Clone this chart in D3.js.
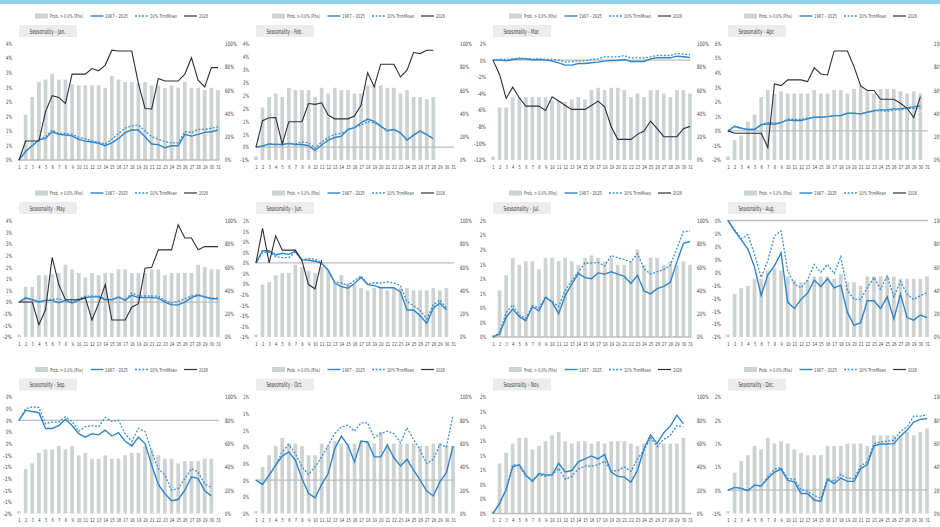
<!DOCTYPE html>
<html><head><meta charset="utf-8">
<script src="https://cdn.jsdelivr.net/npm/d3@7"></script>
<style>
body{margin:0;background:#fff}
svg{display:block}
text{font-family:"Liberation Sans Narrow","DejaVu Sans Condensed","Liberation Sans",sans-serif;font-size:6px;fill:#404040}
</style>
</head><body>
<svg id="c" width="940" height="527"></svg>
<script>
const days=["1","2","3","4","5","6","7","8","9","10","11","12","13","14","15","16","17","18","19","20","21","22","23","24","25","26","27","28","29","30","31"];
const rightTicks=[0,20,40,60,80,100];
const rightLabels=["0%","20%","40%","60%","80%","100%"];

const janProb=[0,39,54,67,69,74,69,69,65,64,64,64,64,62,72,69,67,67,66,67,64,64,62,64,62,67,62,62,60,62,60];
const janAvg=[0,0.29,0.49,0.69,0.74,0.97,0.88,0.86,0.83,0.71,0.65,0.62,0.57,0.49,0.59,0.74,0.94,1.03,1.03,0.80,0.55,0.53,0.42,0.49,0.49,0.88,0.82,0.88,0.95,0.97,1.03];
const janTrim=[0,0.30,0.50,0.70,0.80,1.03,0.91,0.91,0.88,0.78,0.73,0.66,0.61,0.55,0.71,0.91,1.09,1.17,1.20,1.00,0.80,0.71,0.63,0.59,0.59,0.97,0.94,1.05,1.05,1.09,1.14];
const jan2026=[0,0.65,0.65,0.65,1.66,2.21,2.15,1.94,2.95,2.95,2.95,3.14,3.06,3.26,3.77,3.74,3.74,3.74,2.63,1.77,1.75,2.80,2.71,2.71,2.71,2.95,3.51,2.74,2.51,3.17,3.17];
const janTicks=[0,0.5,1,1.5,2,2.5,3,3.5,4];
const janLabels=["0%","1%","1%","2%","2%","3%","3%","4%","4%"];

const febProb=[3,45,54,57,54,62,60,60,60,54,62,57,62,60,60,57,57,64,64,64,62,62,57,60,54,54,52,54];
const febAvg=[0,0.04,0.12,0.10,0.10,0.14,0.10,0.10,0.05,-0.14,0.08,0.27,0.37,0.42,0.68,0.75,0.94,1.08,0.99,0.81,0.63,0.68,0.55,0.27,0.46,0.62,0.48,0.32];
const febTrim=[0,0.03,0.12,0.10,0.10,0.13,0.12,0.20,0.17,-0.05,0.20,0.36,0.49,0.53,0.66,0.75,0.85,0.98,0.94,0.80,0.64,0.67,0.55,0.28,0.46,0.61,0.48,0.33];
const feb2026=[0,1.02,1.13,1.14,0.12,0.98,0.98,0.98,1.68,1.65,1.71,1.23,1.09,1.09,1.09,1.20,1.62,2.87,2.33,3.20,3.20,3.20,2.71,2.97,3.65,3.61,3.74,3.74];
const febTicks=[-0.5,0,0.5,1,1.5,2,2.5,3,3.5,4];
const febLabels=["-1%","0%","1%","1%","2%","2%","3%","3%","4%","4%"];

const marProb=[3,45,45,54,54,54,54,54,54,51,51,50,52,54,52,60,62,60,62,62,60,54,57,54,60,60,57,54,60,60,57];
const marAvg=[0,0,-0.08,0.08,0.16,0.16,0.04,0.08,0,-0.12,-0.32,-0.60,-0.60,-0.40,-0.40,-0.32,-0.24,-0.12,-0.04,-0.04,0.08,-0.16,-0.16,-0.16,0.16,0.28,0.28,0.28,0.48,0.40,0.32];
const marTrim=[0,0.08,0.08,0.16,0.24,0.20,0.12,0.16,0.12,0.08,0,-0.20,-0.20,-0.08,-0.08,0.08,0.16,0.40,0.40,0.40,0.56,0.24,0.32,0.24,0.40,0.56,0.56,0.56,0.80,0.72,0.64];
const mar2026=[0,-1.72,-4.60,-3.24,-4.52,-5.52,-5.52,-5.52,-6.04,-4.40,-4.92,-5.44,-5.92,-5.92,-5.92,-5.44,-4.92,-5.60,-8.00,-9.52,-9.52,-9.52,-8.92,-8.52,-7.32,-8.24,-9.20,-9.20,-9.20,-8.24,-7.96];
const marTicks=[-12,-10,-8,-6,-4,-2,0,2];
const marLabels=["-12%","-10%","-8%","-6%","-4%","-2%","0%","2%"];

const aprProb=[3,17,21,33,39,54,60,57,59,57,57,57,57,60,57,57,60,60,57,61,64,59,57,61,61,61,59,57,59,57];
const aprAvg=[0,0.30,0.18,0.09,0.09,0.41,0.48,0.46,0.57,0.75,0.71,0.71,0.82,0.94,0.94,0.98,1.05,1.05,1.21,1.21,1.17,1.28,1.39,1.44,1.44,1.51,1.51,1.60,1.65,1.71];
const aprTrim=[0,0.35,0.20,0.12,0.12,0.45,0.57,0.55,0.55,0.82,0.78,0.78,0.89,0.94,0.94,0.98,1.05,1.05,1.21,1.19,1.17,1.28,1.35,1.39,1.35,1.44,1.44,1.55,1.55,1.55];
const apr2026=[0,-0.16,-0.16,-0.16,-0.16,-0.16,-1.14,3.22,3.11,3.50,3.50,3.50,3.38,4.34,3.91,3.84,5.49,5.49,5.49,4.41,3.09,2.77,2.77,2.17,2.17,2.17,1.90,1.55,0.91,2.35];
const aprTicks=[-2,-1,0,1,2,3,4,5,6];
const aprLabels=["-2%","-1%","0%","1%","2%","3%","4%","5%","6%"];

const mayProb=[2,43,43,53,53,54,55,62,58,55,51,55,53,55,55,58,58,55,55,55,58,58,53,55,55,55,55,62,60,58,58];
const mayAvg=[0,0.17,0.10,0,0.07,0.07,-0.03,0.07,-0.04,0.07,0.19,0.22,0.22,0.10,0.10,0.22,0.07,0.29,0.19,0.19,0.19,0.17,0,-0.12,-0.12,0,0.19,0.29,0.22,0.14,0.14];
const mayTrim=[0,0.20,0.12,0.03,0.07,0.12,0.14,0.04,0.04,0.14,0.25,0.26,0.25,0.14,0.10,0.19,0.10,0.39,0.26,0.26,0.26,0.25,0.07,-0.04,0.03,0.14,0.26,0.32,0.22,0.17,0.17];
const may2026=[0,0,0,-0.97,-0.33,1.92,0.75,0.10,0.10,0.10,0.19,-0.77,-0.07,0.75,-0.77,-0.77,-0.77,-0.22,-0.07,1.45,1.49,2.24,2.24,2.24,3.32,2.75,2.75,2.24,2.38,2.38,2.38];
const mayTicks=[-1.5,-1,-0.5,0,0.5,1,1.5,2,2.5,3,3.5];
const mayLabels=["-2%","-1%","-1%","0%","1%","1%","2%","2%","3%","3%","4%"];

const junProb=[2,45,47,53,55,55,62,60,57,55,60,57,46,53,46,45,42,40,42,42,40,42,42,42,40,40,40,42,40,42];
const junAvg=[0,0.23,0.23,0.15,0.18,0.16,0.22,0.06,0.05,0.03,-0.01,-0.14,-0.38,-0.45,-0.48,-0.39,-0.27,-0.41,-0.43,-0.47,-0.47,-0.47,-0.55,-0.89,-0.89,-1.00,-1.14,-0.85,-0.76,-0.89];
const junTrim=[0,0.20,0.20,0.12,0.10,0.10,0.20,0.06,0.08,0.07,0,-0.15,-0.36,-0.38,-0.43,-0.33,-0.25,-0.40,-0.38,-0.38,-0.36,-0.38,-0.43,-0.73,-0.81,-0.90,-1.06,-0.79,-0.70,-0.85];
const jun2026=[0,0.65,0,0.51,0.24,0.24,0.24,0.04,-0.41,-0.49,0.05];
const junTicks=[-1.4,-1.2,-1,-0.8,-0.6,-0.4,-0.2,0,0.2,0.4,0.6,0.8];
const junLabels=["-1%","-1%","-1%","-1%","-1%","0%","0%","0%","0%","0%","1%","1%"];

const julProb=[2,40,53,68,62,65,65,58,68,68,65,68,65,62,68,70,68,65,68,62,62,65,75,62,68,68,62,65,62,65,62];
const julAvg=[0,0.05,0.34,0.48,0.35,0.28,0.52,0.45,0.68,0.60,0.40,0.71,0.91,1.09,1.02,1.00,1.10,1.08,1.12,1.08,1.04,0.92,1.06,0.79,0.74,0.83,0.87,0.94,1.29,1.61,1.64];
const julTrim=[0,0.08,0.42,0.55,0.38,0.32,0.54,0.50,0.69,0.61,0.52,0.80,0.96,1.12,1.27,1.27,1.28,1.22,1.40,1.36,1.33,1.29,1.43,1.17,1.08,1.12,1.16,1.23,1.52,1.81,1.82];
const julTicks=[0,0.25,0.5,0.75,1,1.25,1.5,1.75,2];
const julLabels=["0%","0%","0%","1%","1%","1%","2%","2%","2%"];

const augProb=[2,37,42,44,50,50,57,59,57,52,49,47,49,52,52,52,50,54,47,47,44,52,52,52,52,52,50,50,50,50,52];
const augAvg=[0,-0.08,-0.15,-0.22,-0.36,-0.58,-0.42,-0.35,-0.25,-0.63,-0.68,-0.61,-0.56,-0.46,-0.51,-0.45,-0.52,-0.50,-0.71,-0.81,-0.79,-0.62,-0.62,-0.68,-0.59,-0.76,-0.57,-0.75,-0.77,-0.73,-0.75];
const augTrim=[0,-0.07,-0.14,-0.11,-0.26,-0.44,-0.31,-0.12,-0.08,-0.39,-0.49,-0.52,-0.46,-0.34,-0.40,-0.34,-0.41,-0.28,-0.54,-0.61,-0.61,-0.52,-0.44,-0.53,-0.43,-0.59,-0.47,-0.57,-0.61,-0.58,-0.56];
const augTicks=[-0.9,-0.8,-0.7,-0.6,-0.5,-0.4,-0.3,-0.2,-0.1,0];
const augLabels=["-1%","-1%","-1%","-1%","-1%","0%","0%","0%","0%","0%"];

const sepProb=[2,38,43,52,55,55,58,55,58,50,52,47,47,50,47,47,50,52,52,58,55,50,47,47,43,45,45,45,47,47];
const sepAvg=[0,0.17,0.15,0.13,-0.14,-0.14,-0.09,0.02,-0.09,-0.23,-0.29,-0.23,-0.25,-0.17,-0.27,-0.21,-0.36,-0.44,-0.29,-0.40,-0.77,-1.10,-1.26,-1.38,-1.36,-1.20,-0.97,-1.00,-1.21,-1.30];
const sepTrim=[0,0.20,0.23,0.22,-0.06,-0.03,-0.03,0.06,-0.02,-0.19,-0.11,-0.09,-0.11,0.05,-0.02,0,-0.23,-0.36,-0.14,-0.19,-0.54,-0.83,-0.94,-1.20,-1.17,-1.00,-0.83,-0.89,-1.09,-1.16];
const sepTicks=[-1.6,-1.4,-1.2,-1,-0.8,-0.6,-0.4,-0.2,0,0.2,0.4];
const sepLabels=["-2%","-1%","-1%","-1%","-1%","-1%","0%","0%","0%","0%","0%"];

const octProb=[2,40,50,58,65,60,60,58,50,50,60,58,62,60,60,60,62,62,60,70,60,60,60,60,60,58,58,60,60,58,58];
const octAvg=[0,-0.05,0.06,0.18,0.29,0.34,0.24,0.02,-0.16,-0.21,-0.05,0.08,0.38,0.53,0.42,0.22,0.47,0.46,0.28,0.28,0.42,0.27,0.17,0.25,0.12,0,-0.13,-0.19,-0.02,0.09,0.41];
const octTrim=[0,-0.05,0.06,0.18,0.34,0.43,0.32,0.16,0.07,0.16,0.28,0.42,0.56,0.64,0.66,0.59,0.69,0.69,0.51,0.56,0.59,0.56,0.45,0.63,0.49,0.36,0.20,0.25,0.43,0.40,0.78];
const octTicks=[-0.4,-0.2,0,0.2,0.4,0.6,0.8,1];
const octLabels=["0%","0%","0%","0%","0%","1%","1%","1%"];

const novProb=[2,43,52,60,65,65,55,58,62,67,70,62,60,62,62,60,62,60,62,62,62,60,58,60,65,60,60,60,60,65];
const novAvg=[0,0.14,0.33,0.64,0.67,0.53,0.44,0.55,0.53,0.53,0.69,0.57,0.59,0.71,0.75,0.79,0.75,0.81,0.57,0.51,0.50,0.43,0.59,0.89,1.08,0.96,1.11,1.20,1.35,1.23];
const novTrim=[0,0.14,0.33,0.67,0.66,0.51,0.46,0.53,0.51,0.53,0.62,0.47,0.51,0.61,0.65,0.65,0.67,0.72,0.58,0.59,0.64,0.58,0.75,0.87,1.04,0.92,1.02,1.07,1.21,1.19];
const novTicks=[0,0.2,0.4,0.6,0.8,1,1.2,1.4,1.6];
const novLabels=["0%","0%","0%","1%","1%","1%","1%","1%","2%"];

const decProb=[2,35,45,50,58,55,65,60,62,60,55,52,50,50,50,58,58,58,60,60,60,58,67,67,67,67,67,70,67,70,73];
const decAvg=[0,0.06,0.04,-0.01,0.11,0.09,0.25,0.39,0.45,0.21,0.18,-0.07,-0.07,-0.21,-0.24,0.23,0.14,0.26,0.19,0.19,0.46,0.55,0.95,0.99,0.99,1.00,1.16,1.29,1.46,1.52,1.54];
const decTrim=[0,0.06,0.04,0,0.11,0.09,0.29,0.45,0.48,0.25,0.24,0.01,-0.02,-0.11,-0.18,0.26,0.19,0.34,0.26,0.25,0.52,0.61,1.00,1.04,1.05,1.07,1.26,1.36,1.59,1.59,1.62];
const decTicks=[-0.5,0,0.5,1,1.5,2];
const decLabels=["-1%","0%","1%","1%","2%","2%"];

const legendLabels=["Prob. > 0.0% (Rhs)","1987 - 2025","10% TrimMean","2026"];

const panels=[
 {title:"Seasonality - Jan.",prob:janProb,avg:janAvg,trim:janTrim,cur:jan2026,ticks:janTicks,labels:janLabels},
 {title:"Seasonality - Feb.",prob:febProb,avg:febAvg,trim:febTrim,cur:feb2026,ticks:febTicks,labels:febLabels},
 {title:"Seasonality - Mar.",prob:marProb,avg:marAvg,trim:marTrim,cur:mar2026,ticks:marTicks,labels:marLabels},
 {title:"Seasonality - Apr.",prob:aprProb,avg:aprAvg,trim:aprTrim,cur:apr2026,ticks:aprTicks,labels:aprLabels},
 {title:"Seasonality - May.",prob:mayProb,avg:mayAvg,trim:mayTrim,cur:may2026,ticks:mayTicks,labels:mayLabels},
 {title:"Seasonality - Jun.",prob:junProb,avg:junAvg,trim:junTrim,cur:jun2026,ticks:junTicks,labels:junLabels},
 {title:"Seasonality - Jul.",prob:julProb,avg:julAvg,trim:julTrim,cur:null,ticks:julTicks,labels:julLabels},
 {title:"Seasonality - Aug.",prob:augProb,avg:augAvg,trim:augTrim,cur:null,ticks:augTicks,labels:augLabels},
 {title:"Seasonality - Sep.",prob:sepProb,avg:sepAvg,trim:sepTrim,cur:null,ticks:sepTicks,labels:sepLabels},
 {title:"Seasonality - Oct.",prob:octProb,avg:octAvg,trim:octTrim,cur:null,ticks:octTicks,labels:octLabels},
 {title:"Seasonality - Nov.",prob:novProb,avg:novAvg,trim:novTrim,cur:null,ticks:novTicks,labels:novLabels},
 {title:"Seasonality - Dec.",prob:decProb,avg:decAvg,trim:decTrim,cur:null,ticks:decTicks,labels:decLabels}
];

const BAR="#cdd2d2", BLUE="#2f85c8", DOT="#3a90d2", BLACK="#2e2e3a", ZERO="#bdbdbd";
const colX=[[19,218],[256,453],[493,690],[728,927]];
const rowTop=[43.5,220.5,397];
const ph=116.5;

const svg=d3.select("#c");
svg.append("rect").attr("x",0).attr("y",0).attr("width",940).attr("height",4).attr("fill","#8fd2f2");

function narrow(sel,perChar){
  sel.each(function(){
    const t=d3.select(this), s=t.text();
    t.attr("textLength",s.length*perChar).attr("lengthAdjust","spacingAndGlyphs");
  });
}

panels.forEach((p,i)=>{
  const c=i%4, r=Math.floor(i/4);
  const x0=colX[c][0], x1=colX[c][1];
  const top=rowTop[r], bot=top+ph;
  const x=d3.scalePoint().domain(days).range([x0,x1]);
  const bw=x.step()*0.56;
  const yL=d3.scaleLinear().domain([p.ticks[0],p.ticks[p.ticks.length-1]]).range([bot,top]);
  const yR=d3.scaleLinear().domain([0,100]).range([bot,top]);
  const g=svg.append("g");

  g.selectAll("rect.bar").data(p.prob).join("rect").attr("class","bar")
    .attr("x",(d,j)=>x(days[j])-bw/2).attr("width",bw)
    .attr("y",d=>yR(d)).attr("height",d=>bot-yR(d)).attr("fill",BAR);

  g.append("line").attr("x1",x0-1).attr("x2",x1+1).attr("y1",yL(0)).attr("y2",yL(0))
    .attr("stroke",ZERO).attr("stroke-width",1.3);

  const line=d3.line().x((d,j)=>x(days[j])).y(d=>yL(d));
  g.append("path").datum(p.avg).attr("d",line).attr("fill","none").attr("stroke",BLUE).attr("stroke-width",1.4);
  g.append("path").datum(p.trim).attr("d",line).attr("fill","none").attr("stroke",DOT).attr("stroke-width",1.3).attr("stroke-dasharray","2,1.6");
  if(p.cur) g.append("path").datum(p.cur).attr("d",line).attr("fill","none").attr("stroke",BLACK).attr("stroke-width",1.1);

  const la=g.append("g").attr("transform",`translate(${x0-4},0)`)
    .call(d3.axisLeft(yL).tickValues(p.ticks).tickFormat((d,k)=>p.labels[k]).tickSize(0).tickPadding(3));
  la.select(".domain").remove();
  const ra=g.append("g").attr("transform",`translate(${x1+4},0)`)
    .call(d3.axisRight(yR).tickValues(rightTicks).tickFormat((d,k)=>rightLabels[k]).tickSize(0).tickPadding(3));
  ra.select(".domain").remove();
  const ba=g.append("g").attr("transform",`translate(0,${bot})`)
    .call(d3.axisBottom(x).tickSize(0).tickPadding(5));
  ba.select(".domain").remove();
  g.selectAll(".tick text").style("font-size","6px").style("fill","#404040");
  narrow(la.selectAll(".tick text"),3.0);
  narrow(ra.selectAll(".tick text"),3.0);
  ba.selectAll(".tick text").style("font-size","5.5px");
  narrow(ba.selectAll(".tick text"),2.3);

  g.append("rect").attr("x",x0).attr("y",top-18.5).attr("width",58).attr("height",12).attr("fill","#ececec");
  g.append("text").attr("x",x0+10.5).attr("y",top-10).text(p.title)
    .style("font-size","7px").style("fill","#404040")
    .attr("textLength",36).attr("lengthAdjust","spacingAndGlyphs");

  const lx=x0-19, ly=top-27.5;
  g.append("rect").attr("x",lx+35).attr("y",ly-2.5).attr("width",13).attr("height",5).attr("fill",BAR);
  g.append("line").attr("x1",lx+90.5).attr("x2",lx+103.5).attr("y1",ly).attr("y2",ly).attr("stroke",BLUE).attr("stroke-width",1.4);
  g.append("line").attr("x1",lx+135).attr("x2",lx+148).attr("y1",ly).attr("y2",ly).attr("stroke",DOT).attr("stroke-width",1.3).attr("stroke-dasharray","2,1.6");
  g.append("line").attr("x1",lx+184).attr("x2",lx+197).attr("y1",ly).attr("y2",ly).attr("stroke",BLACK).attr("stroke-width",1.2);
  const lpos=[50,105,150,199], lw=[33,23,27,9];
  legendLabels.forEach((t,k)=>{
    g.append("text").attr("x",lx+lpos[k]).attr("y",ly+2).text(t)
      .style("font-size","5.5px").style("fill","#505050")
      .attr("textLength",lw[k]).attr("lengthAdjust","spacingAndGlyphs");
  });
});
</script>
</body></html>
